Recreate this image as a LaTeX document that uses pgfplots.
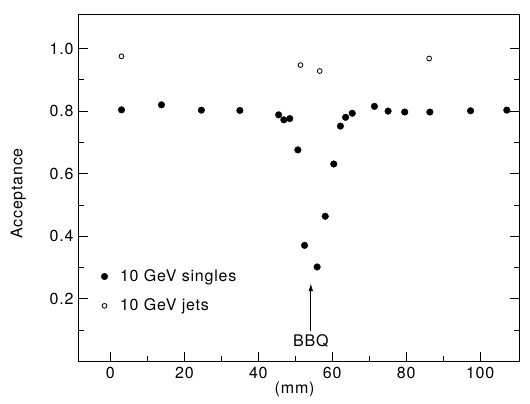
\documentclass[border=0pt]{standalone}
\usepackage{fontspec}
\setmainfont{TeX Gyre Heros}[LetterSpace=5]
\usepackage{pgfplots}
\pgfplotsset{compat=1.18}
\usetikzlibrary{arrows.meta}
\pgfplotstableread{
x y
3.0 0.804
13.8 0.820
24.6 0.803
35.0 0.802
45.5 0.788
46.9 0.772
48.5 0.776
50.7 0.676
52.5 0.371
55.9 0.302
58.1 0.464
60.4 0.631
62.2 0.752
63.6 0.780
65.4 0.793
71.4 0.815
75.1 0.800
79.6 0.797
86.4 0.797
97.4 0.801
107.2 0.803
}\singles
\pgfplotstableread{
x y
3.0 0.975
51.4 0.947
56.6 0.928
86.2 0.968
}\jets
\pgfplotsset{myleg/.style={legend image code/.code={\path[draw=none,fill=none] (0pt,0pt) (17pt,0pt); \draw[##1] plot coordinates {(3pt,0pt)};}}}
\begin{document}
\fontsize{16}{19}\selectfont
\begin{tikzpicture}
\useasboundingbox (-79pt,-42.5pt) rectangle (451pt,361.5pt);
\begin{axis}[
  at={(0pt,0pt)}, anchor=south west,
  scale only axis, width=440pt, height=346.5pt,
  xmin=-8.5, xmax=110.5, ymin=0, ymax=1.107,
  xtick={0,20,40,60,80,100}, minor xtick={10,30,50,70,90},
  ytick={0.2,0.4,0.6,0.8,1.0}, minor ytick={0.1,0.3,0.5,0.7,0.9},
  xtick pos=bottom, ytick pos=both, tick align=inside,
  major tick length=9pt, minor tick length=5pt,
  /pgf/number format/assume math mode=true,
  yticklabel style={/pgf/number format/.cd, fixed, fixed zerofill, precision=1},
  ticklabel style={font=\fontsize{16}{19}\selectfont},
  axis line style={line width=1pt},
  every tick/.style={line width=0.9pt, black},
  xlabel={(mm)}, ylabel={Acceptance},
  label style={font=\fontsize{16}{19}\selectfont},
  xlabel style={at={(axis description cs:0.49,-0.08)}, anchor=center},
  ylabel style={at={(axis description cs:-0.138,0.485)}, anchor=center},
  clip=false,
  legend style={draw=none, fill=none, at={(axis description cs:0.05,0.203)}, anchor=west,
    row sep=12pt, inner sep=0pt, nodes={inner sep=1.5pt}, font=\fontsize{16}{19}\selectfont},
  legend cell align=left,
]
\addplot[only marks, mark=*, mark size=3.3pt, black, myleg] table[x=x,y=y] {\singles};
\addplot[only marks, mark=o, mark size=2.4pt, line width=0.8pt, black, myleg] table[x=x,y=y] {\jets};
\legend{10 GeV singles, 10 GeV jets}
\draw[line width=0.9pt, -{Latex[length=8pt,width=4.5pt]}] (axis cs:54.2,0.098) -- (axis cs:54.2,0.25);
\node[anchor=center] at (axis cs:54.2,0.066) {BBQ};
\end{axis}
\end{tikzpicture}
\end{document}
